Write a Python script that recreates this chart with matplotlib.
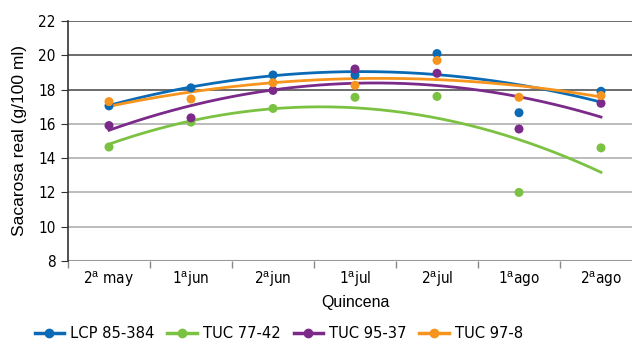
import matplotlib
matplotlib.use("Agg")
import matplotlib.pyplot as plt
import numpy as np
from matplotlib import font_manager
from matplotlib.lines import Line2D

quincenas = ["2$^{a}$ may", "1$^{a}$jun", "2$^{a}$jun", "1$^{a}$jul", "2$^{a}$jul", "1$^{a}$ago", "2$^{a}$ago"]
variedades = ["LCP 85-384", "TUC 77-42", "TUC 95-37", "TUC 97-8"]
colores = ["#0a6ab5", "#7cc242", "#7b2a8a", "#f7941d"]

lcp_85_384 = [17.05, 18.1, 18.85, 18.85, 20.1, 16.65, 17.9]
tuc_77_42 = [14.65, 16.1, 16.9, 17.55, 17.6, 12.0, 14.6]
tuc_95_37 = [15.9, 16.35, 17.95, 19.2, 18.95, 15.7, 17.2]
tuc_97_8 = [17.3, 17.45, 18.4, 18.25, 19.7, 17.55, 17.65]
series = [lcp_85_384, tuc_77_42, tuc_95_37, tuc_97_8]

# fuente condensada si esta disponible
condensada = any(f.name == "DejaVu Sans" and f.stretch in ("condensed", 87.5, 75)
                 for f in font_manager.fontManager.ttflist)
if condensada:
    fam_txt = ["DejaVu Sans"]
    stretch = "condensed"
    size_tick, size_leg = 11, 11.8
else:
    fam_txt = ["Liberation Sans", "DejaVu Sans"]
    stretch = "normal"
    size_tick, size_leg = 10.5, 10.5

plt.rcParams["font.family"] = ["Liberation Sans", "DejaVu Sans"]
plt.rcParams["mathtext.fontset"] = "custom"
plt.rcParams["mathtext.rm"] = "Liberation Sans"
plt.rcParams["mathtext.it"] = "Liberation Sans"

fig = plt.figure(figsize=(6.32, 3.45), dpi=100)
ax = fig.add_axes([68 / 632, 1 - 261 / 345, 574 / 632, 240 / 345])

x = np.arange(len(quincenas))
xs = np.linspace(0, len(quincenas) - 1, 200)

# linea de tendencia polinomica de orden 2 para cada variedad
for vals, col in zip(series, colores):
    coef = np.polyfit(x, vals, 2)
    ax.plot(xs, np.polyval(coef, xs), color=col, lw=2, zorder=3)
    ax.scatter(x, vals, color=col, s=42, zorder=4, edgecolors="none")

ax.set_ylim(8, 22)
ax.set_xlim(-0.5, len(quincenas) - 0.5)
ax.set_yticks(range(8, 23, 2))

for v in range(10, 23, 2):
    c = "#444444" if v >= 18 else "#aaaaaa"
    ax.axhline(v, color=c, lw=1.1, zorder=1)
ax.axhline(8, color="#999999", lw=1.5, zorder=1)

ax.set_xticks(x)
ax.set_xticklabels(quincenas)
ax.set_xticks(np.arange(-0.5, len(quincenas)), minor=True)
ax.tick_params(axis="x", which="major", length=0, pad=6, labelsize=size_tick)
ax.tick_params(axis="x", which="minor", length=5, color="#888888", width=1)
ax.tick_params(axis="y", length=5, color="#333333", labelsize=size_tick, pad=4)
for lab in ax.get_xticklabels() + ax.get_yticklabels():
    lab.set_family(fam_txt)
    lab.set_stretch(stretch)

for s in ["top", "right", "bottom"]:
    ax.spines[s].set_visible(False)
ax.spines["left"].set_color("#333333")
ax.spines["left"].set_linewidth(1.2)

ax.set_ylabel("Sacarosa real (g/100 ml)", fontsize=12.5, labelpad=8)
ax.set_xlabel("Quincena", fontsize=11.5, labelpad=5)

handles = [Line2D([0], [0], color=c, lw=2.5, marker="o", markersize=6) for c in colores]
leg = fig.legend(handles, variedades, loc="center", bbox_to_anchor=(0.441, 1 - 334 / 345), ncol=4,
                 frameon=False, handlelength=1.8, handletextpad=0.35, columnspacing=0.8,
                 prop=font_manager.FontProperties(family=fam_txt, stretch=stretch, size=size_leg))

fig.savefig("out.png", dpi=100)
